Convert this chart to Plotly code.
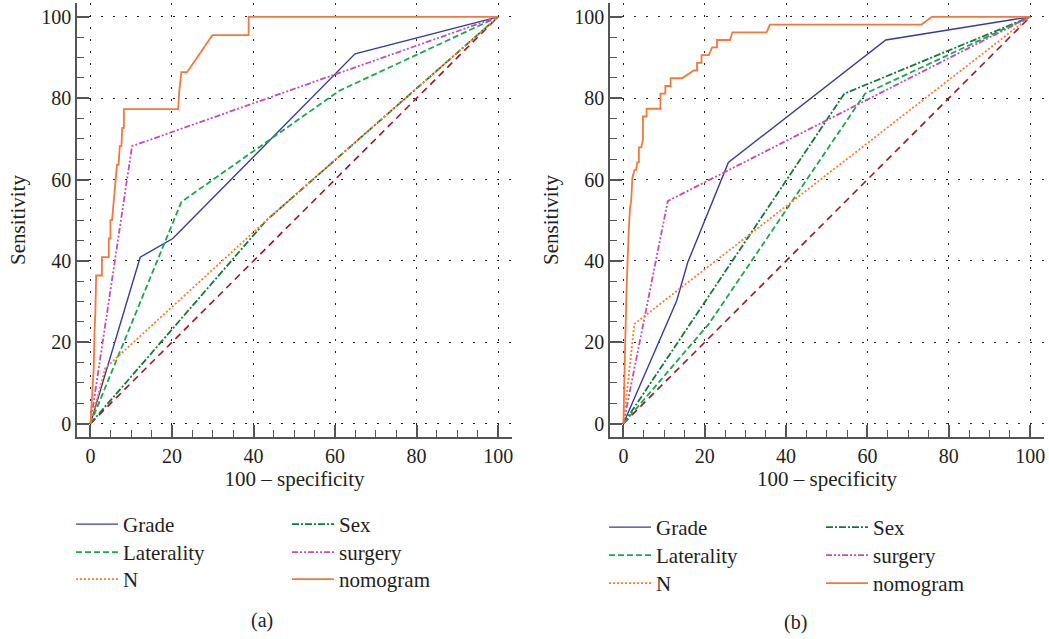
import plotly.graph_objects as go

# ---------------- data ----------------
# Panel (a)
a_grade_x = [0, 12.2, 20.2, 64.9, 100]
a_grade_y = [0, 40.9, 45.5, 90.9, 100]
a_lat_x = [0, 22.3, 61.0, 100]
a_lat_y = [0, 54.5, 81.8, 100]
a_n_x = [0, 3.6, 43.2, 100]
a_n_y = [0, 13.6, 50.0, 100]
a_sex_x = [0, 43.2, 100]
a_sex_y = [0, 50.0, 100]
a_surg_x = [0, 10.2, 100]
a_surg_y = [0, 68.2, 100]
a_nomo_x = [0, 0.3, 0.5, 0.8, 1.0, 1.2, 1.4, 2.8, 2.8, 4.5, 4.5, 4.9, 4.9, 5.3, 5.7, 6.1,
            6.5, 6.9, 7.2, 7.6, 7.8, 8.2, 8.2, 21.5, 21.8, 22.3, 23.7, 26.8, 29.9, 38.8,
            38.8, 100]
a_nomo_y = [0, 4.5, 9.1, 13.6, 22.7, 27.3, 36.4, 36.4, 40.9, 40.9, 45.5, 45.5, 50.0, 50.0,
            54.5, 59.1, 63.6, 63.6, 68.2, 68.2, 72.7, 72.7, 77.3, 77.3, 81.8, 86.4, 86.4,
            90.9, 95.5, 95.5, 100, 100]

# Panel (b)
b_grade_x = [0, 13.1, 15.8, 25.8, 64.5, 100]
b_grade_y = [0, 30.2, 39.6, 64.2, 94.3, 100]
b_lat_x = [0, 21.0, 59.4, 100]
b_lat_y = [0, 24.5, 81.1, 100]
b_n_x = [0, 2.7, 100]
b_n_y = [0, 24.5, 100]
b_sex_x = [0, 54.3, 100]
b_sex_y = [0, 81.1, 100]
b_surg_x = [0, 10.9, 100]
b_surg_y = [0, 54.7, 100]
b_nomo_x = [0, 0.1, 0.3, 0.5, 0.8, 1.0, 1.3, 1.6, 1.9, 2.2, 2.7, 3.1, 3.4, 3.8, 3.8, 4.4,
            4.8, 4.8, 5.7, 5.7, 9.1, 9.1, 10.3, 10.3, 11.6, 11.6, 14.4, 17.3, 18.1, 18.1,
            19.2, 19.2, 21.0, 21.8, 23.0, 23.0, 26.2, 26.8, 35.2, 36.0, 73.3, 75.8, 100]
b_nomo_y = [0, 5.7, 15.1, 22.6, 34.0, 41.5, 47.2, 52.8, 54.7, 60.4, 62.3, 62.3, 64.2, 64.2,
            67.9, 67.9, 69.8, 75.5, 75.5, 77.4, 77.4, 81.1, 81.1, 83.0, 83.0, 84.9, 84.9,
            86.8, 86.8, 88.7, 88.7, 90.6, 90.6, 92.5, 92.5, 94.3, 94.3, 96.2, 96.2, 98.1,
            98.1, 100, 100]

diag_x = [0, 100]
diag_y = [0, 100]

series_names = ["Grade", "Laterality", "N", "Sex", "surgery", "nomogram"]
tick_vals = [0, 20, 40, 60, 80, 100]
tick_text = ["0", "20", "40", "60", "80", "100"]

# ---------------- styles ----------------
styles = {
    "Grade": dict(color="#3a3a9e", dash="solid", width=1.4),
    "Laterality": dict(color="#1aa84c", dash="6px,3px", width=1.8),
    "N": dict(color="#ff7a2a", dash="2px,2px", width=1.8),
    "Sex": dict(color="#14783a", dash="7px,2px,2px,2px", width=1.8),
    "surgery": dict(color="#c64db6", dash="6px,2px,2px,2px,2px,2px", width=1.8),
    "nomogram": dict(color="#f4783c", dash="solid", width=1.8),
}
diag_style = dict(color="#a3121f", dash="7px,5px", width=1.6)

FONT = "Liberation Serif"
TXT = "#231f20"

fig = go.Figure()

# legend rows: row 1 -> Grade / Sex, row 2 -> Laterality / surgery, row 3 -> N / nomogram
row_of = {"Grade": 0, "Sex": 0, "Laterality": 1, "surgery": 1, "N": 2, "nomogram": 2}
order = ["Grade", "Sex", "Laterality", "surgery", "N", "nomogram"]

panels = [
    ("x", "y", dict(Grade=(a_grade_x, a_grade_y), Laterality=(a_lat_x, a_lat_y),
                    N=(a_n_x, a_n_y), Sex=(a_sex_x, a_sex_y),
                    surgery=(a_surg_x, a_surg_y), nomogram=(a_nomo_x, a_nomo_y)),
     ["legend", "legend2", "legend3"]),
    ("x2", "y2", dict(Grade=(b_grade_x, b_grade_y), Laterality=(b_lat_x, b_lat_y),
                      N=(b_n_x, b_n_y), Sex=(b_sex_x, b_sex_y),
                      surgery=(b_surg_x, b_surg_y), nomogram=(b_nomo_x, b_nomo_y)),
     ["legend4", "legend5", "legend6"]),
]

for xa, ya, series, legs in panels:
    fig.add_trace(go.Scatter(x=diag_x, y=diag_y, mode="lines", line=diag_style,
                             xaxis=xa, yaxis=ya, showlegend=False, hoverinfo="skip"))
    for name in order:
        sx, sy = series[name]
        fig.add_trace(go.Scatter(x=sx, y=sy, mode="lines", name=name, line=styles[name],
                                 xaxis=xa, yaxis=ya, legend=legs[row_of[name]]))

W, H = 1049, 639


def px_x(p):
    return p / W


def px_y(p):
    return 1 - p / H


axis_common = dict(
    range=[-3.3, 103.4], tickvals=tick_vals, ticktext=tick_text,
    showline=True, linecolor="#555555", linewidth=1.6,
    ticks="inside", ticklen=12, tickwidth=1.5, tickcolor="#555555",
    minor=dict(dtick=5, tick0=0, ticks="inside", ticklen=7, tickwidth=1.3,
               tickcolor="#555555", showgrid=False),
    showgrid=True, gridcolor="#222222", gridwidth=1.2, griddash="1.5px,10.5px",
    zeroline=False, tickfont=dict(family=FONT, size=20, color=TXT),
    fixedrange=True, automargin=False,
)

dom_y = [px_y(437), px_y(3)]
fig.update_layout(
    width=W, height=H,
    margin=dict(l=0, r=0, t=0, b=0, autoexpand=False),
    paper_bgcolor="white", plot_bgcolor="white",
    font=dict(family=FONT, size=20, color=TXT),
    xaxis=dict(domain=[px_x(77), px_x(512)], anchor="y",
               title=dict(text="100 – specificity", standoff=6, font=dict(size=21)),
               **axis_common),
    yaxis=dict(domain=dom_y, anchor="x",
               title=dict(text="Sensitivity", standoff=10, font=dict(size=21)),
               **axis_common),
    xaxis2=dict(domain=[px_x(610), px_x(1044)], anchor="y2",
                title=dict(text="100 – specificity", standoff=6, font=dict(size=21)),
                **axis_common),
    yaxis2=dict(domain=dom_y, anchor="x2",
                title=dict(text="Sensitivity", standoff=10, font=dict(size=21)),
                **axis_common),
    showlegend=True,
)

leg_common = dict(orientation="h", bgcolor="rgba(0,0,0,0)", borderwidth=0,
                  font=dict(family=FONT, size=21, color=TXT), itemwidth=42,
                  entrywidthmode="pixels",
                  xanchor="left", yanchor="top", traceorder="normal")
leg_layout = {}
for i, top in enumerate([504, 532, 559]):
    key = "legend" if i == 0 else f"legend{i + 1}"
    leg_layout[key] = dict(x=px_x(71), y=px_y(top), entrywidth=159, **leg_common)
for i, top in enumerate([507, 535, 563]):
    leg_layout[f"legend{i + 4}"] = dict(x=px_x(604), y=px_y(top), entrywidth=160,
                                        **leg_common)
fig.update_layout(**leg_layout)

fig.add_annotation(text="(a)", x=px_x(262), y=px_y(620), xref="paper", yref="paper",
                   xanchor="center", yanchor="middle", showarrow=False,
                   font=dict(family=FONT, size=20, color=TXT))
fig.add_annotation(text="(b)", x=px_x(795), y=px_y(622), xref="paper", yref="paper",
                   xanchor="center", yanchor="middle", showarrow=False,
                   font=dict(family=FONT, size=20, color=TXT))

fig.write_html("out.html", config={"displayModeBar": False},
               post_script="document.body.style.margin='0px';")
